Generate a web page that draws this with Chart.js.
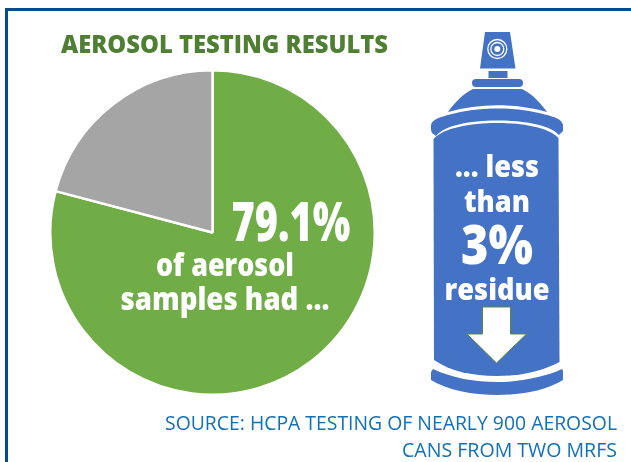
<!DOCTYPE html>
<html>
<head>
<meta charset="utf-8">
<style>
    html, body { margin: 0; padding: 0; background: #fff; overflow: hidden; }
    #page { position: relative; width: 631px; height: 462px; }
    #frame { position: absolute; left: 5px; top: 8px; width: 640px; height: 470px; border: 3px solid #004c8c; box-sizing: border-box; }
    #pieWrap { position: absolute; left: 49px; top: 69px; width: 327px; height: 327px; }
    #overlay { position: absolute; left: 0; top: 0; }
    #overlay text { font-family: "Open Sans", sans-serif; font-weight: 800; }
</style>
</head>
<body>
<div id="page">
    <div id="frame"></div>
    <div id="pieWrap"><canvas id="pieChart" width="327" height="327"></canvas></div>
    <svg id="overlay" width="631" height="462" viewBox="0 0 631 462">
        <text x="61" y="53" font-size="24" fill="#4f7f33" textLength="327" lengthAdjust="spacingAndGlyphs">AEROSOL TESTING RESULTS</text>

        <!-- spray can -->
        <g fill="#4472c4">
            <path d="M485 32 L510 32 L515.5 68.5 L480 68.5 Z"/>
            <rect x="488.5" y="71" width="19" height="7"/>
            <rect x="472" y="79" width="51" height="8" rx="4"/>
            <path d="M473 89 L522 89 C532 94 540 102 547 112 C515 103 480 103 448 112 C455 102 463 94 473 89 Z"/>
            <path d="M431 125 C432 120 438 118 446 115.5 C478 106 516 106 549 115.5 C557 118 562 120 563 125 L563 131 L559 135 C550 125 525 120.5 497 120.5 C470 120.5 445 125 436 136 L432 133 L431 130 Z"/>
            <path d="M433.5 139 C443 128 470 123 497 123 C525 123 549 128 558.5 138 L559.5 362 C540 372 520 376 497 376 C472 376 450 371 434 360 Z"/>
            <path d="M433 369 C452 378 475 382 497 382 C520 382 545 377 562 369 L563 371 L563 380 C545 391 520 395 497 395 C473 395 447 390 431 380 L431 372 Z"/>
        </g>
        <circle cx="497.3" cy="49" r="9.5" fill="none" stroke="#fff" stroke-width="1.3"/>
        <circle cx="497.3" cy="49" r="6.5" fill="none" stroke="#fff" stroke-width="1.3"/>
        <circle cx="497.3" cy="49" r="3" fill="#fff"/>
        <path d="M482.5 307 L510.5 307 L510.5 334 L526.5 334 L496.5 363 L467 334 L482.5 334 Z" fill="#fff" stroke="#5b8a3c" stroke-width="1"/>

        <g fill="#fff" text-anchor="middle">
            <text x="497" y="177" font-size="30" textLength="84" lengthAdjust="spacingAndGlyphs">... less</text>
            <text x="497" y="212" font-size="30" textLength="66" lengthAdjust="spacingAndGlyphs">than</text>
            <text x="497" y="264" font-size="54" textLength="72" lengthAdjust="spacingAndGlyphs">3%</text>
            <text x="497" y="300" font-size="30" textLength="105" lengthAdjust="spacingAndGlyphs">residue</text>
            <text x="291" y="241" font-size="54" textLength="119" lengthAdjust="spacingAndGlyphs">79.1%</text>
            <text x="225" y="276" font-size="31" textLength="138" lengthAdjust="spacingAndGlyphs">of aerosol</text>
            <text x="225" y="310" font-size="31" textLength="209" lengthAdjust="spacingAndGlyphs">samples had ...</text>
        </g>

        <g fill="#1070b8" text-anchor="end">
            <text x="617" y="430" font-size="20" style="font-weight:400" textLength="452" lengthAdjust="spacingAndGlyphs">SOURCE: HCPA TESTING OF NEARLY 900 AEROSOL</text>
            <text x="617" y="457" font-size="20" style="font-weight:400" textLength="215" lengthAdjust="spacingAndGlyphs">CANS FROM TWO MRFS</text>
        </g>
    </svg>
</div>
<script src="https://cdn.jsdelivr.net/npm/chart.js@4/dist/chart.umd.min.js"></script>
<script>
const categories = ["Less than 3% residue", "Other samples"];
const sampleShares = [79.1, 20.9];
const sliceColors = ["#70ad47", "#a5a5a5"];

new Chart(document.getElementById("pieChart").getContext("2d"), {
    type: "pie",
    data: {
        labels: categories,
        datasets: [{
            data: sampleShares,
            backgroundColor: sliceColors,
            borderColor: "#fff",
            borderWidth: 2.5
        }]
    },
    options: {
        responsive: false,
        animation: false,
        layout: { padding: 0 },
        plugins: { legend: { display: false }, tooltip: { enabled: false } }
    }
});
</script>
</body>
</html>
